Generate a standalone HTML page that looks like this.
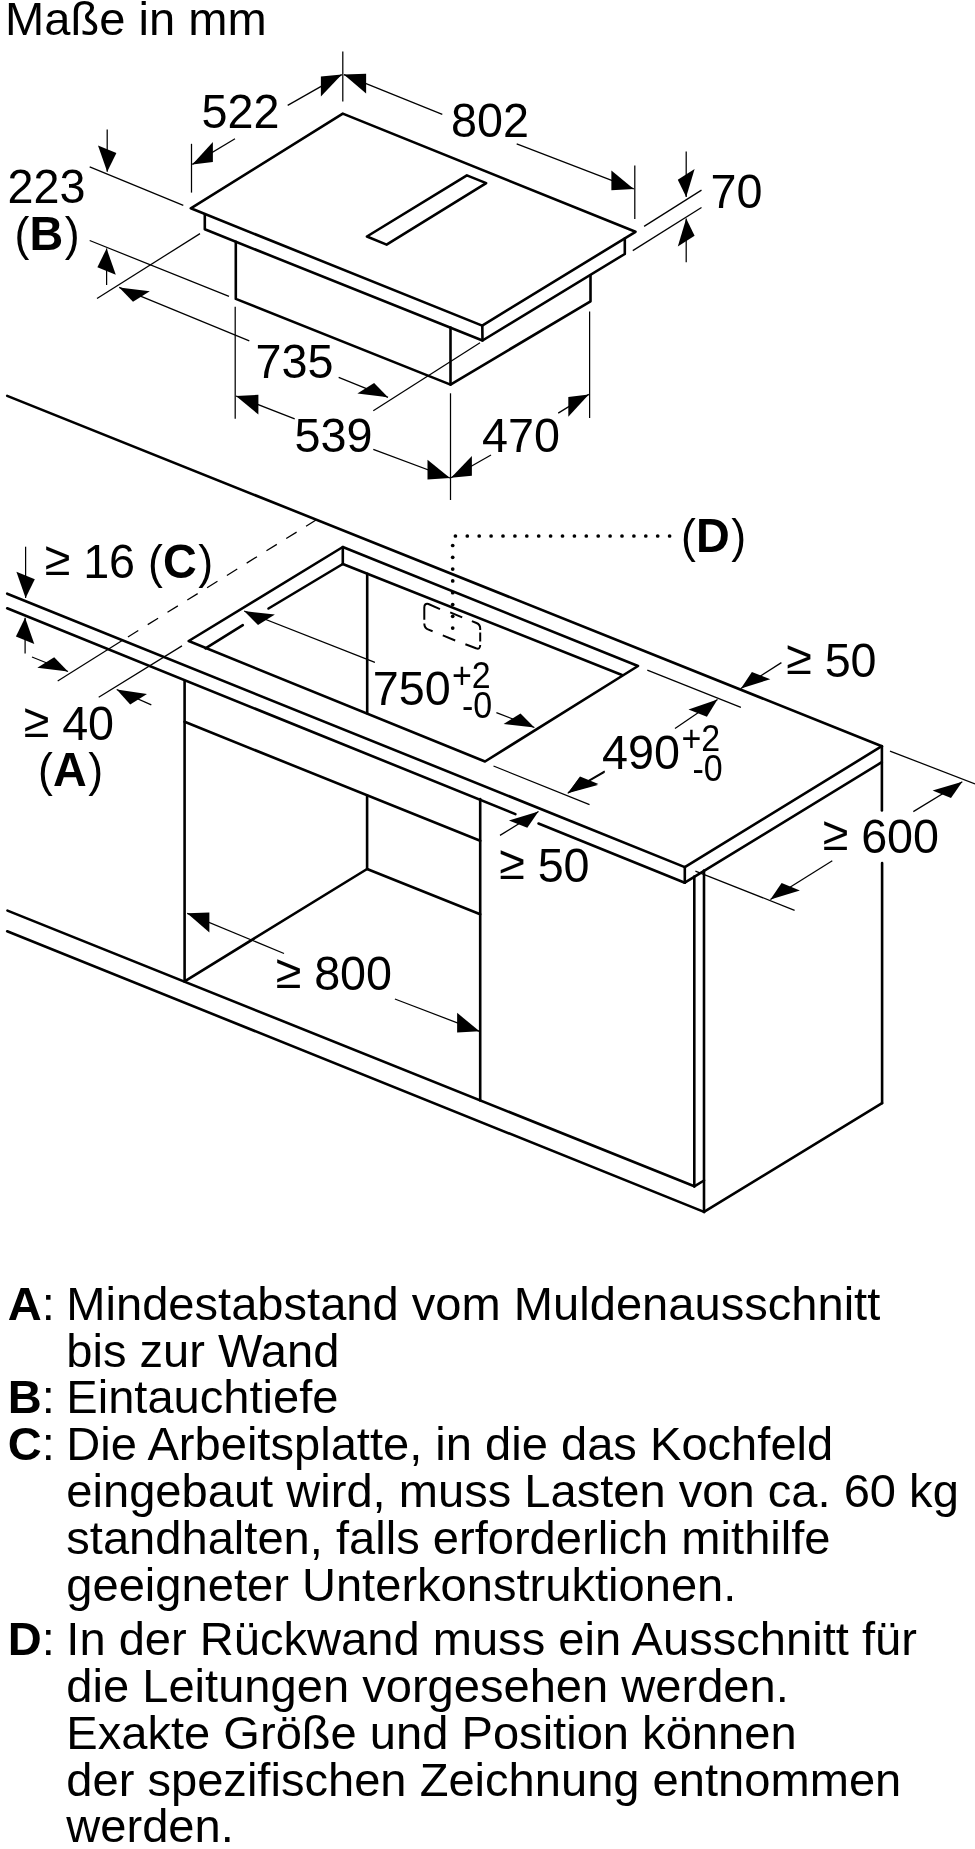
<!DOCTYPE html>
<html><head><meta charset="utf-8"><style>
html,body{margin:0;padding:0;background:#fff;}
svg{display:block;}
text{font-family:"Liberation Sans",sans-serif;fill:#000;}
.tg{will-change:transform;}
</style></head><body>
<svg width="975" height="1849" viewBox="0 0 975 1849">
<g stroke="#000" fill="none" stroke-linecap="butt">
<polygon points="190.8,208.3 342.8,113.6 635.5,231.8 482.2,325.6" stroke-width="2.6" fill="none" stroke-linejoin="round" stroke-linecap="round"/>
<polyline points="204.8,214.2 204.8,229.3 482.5,340.5 624.8,254 624.8,238.6" stroke-width="2.6" fill="none" stroke-linejoin="round" stroke-linecap="round"/>
<line x1="482.3" y1="325.6" x2="482.5" y2="340.5" stroke-width="2.6" stroke-linecap="round" />
<polyline points="235.8,241.7 235.8,298.9 450.5,384.6 590.5,301.3 590.5,275.3" stroke-width="2.6" fill="none" stroke-linejoin="round" stroke-linecap="round"/>
<line x1="450.5" y1="327.6" x2="450.5" y2="384.6" stroke-width="2.6" stroke-linecap="round" />
<polygon points="366.9,236.5 466.9,175.4 486.2,183.1 386.6,244.6" stroke-width="2.6" fill="none" stroke-linejoin="round" stroke-linecap="round"/>
<line x1="191.5" y1="143.8" x2="191.5" y2="192.6" stroke-width="1.25" />
<line x1="342.8" y1="51.5" x2="342.8" y2="101.5" stroke-width="1.25" />
<line x1="634.8" y1="165.5" x2="634.8" y2="219" stroke-width="1.25" />
<polygon points="192.3,164.4 212.9,161.9 212.9,142.1" fill="#000" stroke="none"/>
<line x1="192.3" y1="164.4" x2="235" y2="138.7" stroke-width="1.25" />
<polygon points="341.8,74.6 320.9,96.4 320.9,76.6" fill="#000" stroke="none"/>
<line x1="341.8" y1="74.6" x2="287.7" y2="105.4" stroke-width="1.25" />
<polygon points="343.8,74.6 366.1,93.5 366.1,73.7" fill="#000" stroke="none"/>
<line x1="343.8" y1="74.6" x2="442.3" y2="114.4" stroke-width="1.25" />
<polygon points="633.8,188.9 611.4,190.2 611.4,170.4" fill="#000" stroke="none"/>
<line x1="633.8" y1="188.9" x2="516.7" y2="143.8" stroke-width="1.25" />
<line x1="89.7" y1="166.9" x2="183.3" y2="205.4" stroke-width="1.25" />
<line x1="89.7" y1="240.5" x2="229" y2="296.4" stroke-width="1.25" />
<polygon points="107.2,171.8 116.4,153.1 98.0,145.5" fill="#000" stroke="none"/>
<line x1="107.2" y1="171.8" x2="107.2" y2="129.5" stroke-width="1.25" />
<polygon points="106.6,248.5 115.8,274.8 97.4,267.2" fill="#000" stroke="none"/>
<line x1="106.6" y1="248.5" x2="106.6" y2="285" stroke-width="1.25" />
<line x1="644.1" y1="226.4" x2="701.5" y2="190.1" stroke-width="1.25" />
<line x1="632.8" y1="250.6" x2="701.5" y2="207.5" stroke-width="1.25" />
<polygon points="686.2,196.9 694.6,169.1 677.8,179.7" fill="#000" stroke="none"/>
<line x1="686.2" y1="196.9" x2="686.2" y2="151.5" stroke-width="1.25" />
<polygon points="686.2,218.6 694.6,235.8 677.8,246.4" fill="#000" stroke="none"/>
<line x1="686.2" y1="218.6" x2="686.2" y2="262.3" stroke-width="1.25" />
<line x1="97" y1="298.5" x2="200" y2="233.6" stroke-width="1.25" />
<line x1="373.3" y1="410.7" x2="480" y2="342.7" stroke-width="1.25" />
<polygon points="119.2,287.4 149.8,291.2 133.0,301.8" fill="#000" stroke="none"/>
<line x1="119.2" y1="287.4" x2="249.3" y2="340.8" stroke-width="1.25" />
<polygon points="388.0,397.3 374.1,383.0 357.4,393.6" fill="#000" stroke="none"/>
<line x1="388" y1="397.3" x2="338.7" y2="377.3" stroke-width="1.25" />
<line x1="235.2" y1="306.7" x2="235.2" y2="418.7" stroke-width="1.25" />
<line x1="450.5" y1="393.3" x2="450.5" y2="500" stroke-width="1.25" />
<polygon points="236.0,396.0 258.4,414.6 258.4,394.8" fill="#000" stroke="none"/>
<line x1="236" y1="396" x2="294.7" y2="418.8" stroke-width="1.25" />
<polygon points="450.0,478.0 427.5,479.5 427.5,459.7" fill="#000" stroke="none"/>
<line x1="450" y1="478" x2="373.3" y2="449.3" stroke-width="1.25" />
<line x1="589.6" y1="311.5" x2="589.6" y2="418" stroke-width="1.25" />
<polygon points="451.0,477.8 471.9,475.8 471.9,456.0" fill="#000" stroke="none"/>
<line x1="451" y1="477.8" x2="491" y2="455" stroke-width="1.25" />
<polygon points="588.8,394.4 568.3,416.8 568.3,397.0" fill="#000" stroke="none"/>
<line x1="588.8" y1="394.4" x2="558.2" y2="413.1" stroke-width="1.25" />
<line x1="7.2" y1="395.9" x2="881.9" y2="746.2" stroke-width="2.6" stroke-linecap="round" />
<line x1="7.2" y1="593.7" x2="684.8" y2="867.1" stroke-width="2.6" stroke-linecap="round" />
<line x1="7.2" y1="608.3" x2="515.4" y2="814.1" stroke-width="2.6" stroke-linecap="round" />
<line x1="538.5" y1="823.5" x2="684.8" y2="882.7" stroke-width="2.6" stroke-linecap="round" />
<line x1="881.8" y1="746.2" x2="684.8" y2="867.1" stroke-width="2.6" stroke-linecap="round" />
<line x1="881.8" y1="762.2" x2="684.8" y2="882.7" stroke-width="2.6" stroke-linecap="round" />
<line x1="684.8" y1="867.1" x2="684.8" y2="882.7" stroke-width="2.6" stroke-linecap="round" />
<line x1="881.9" y1="746.2" x2="881.9" y2="810.5" stroke-width="2.6" stroke-linecap="round" />
<line x1="882.1" y1="863" x2="882.1" y2="1103.1" stroke-width="2.6" stroke-linecap="round" />
<polygon points="188.7,641 342.8,547 638,666 485,761.5" stroke-width="2.6" fill="none" stroke-linejoin="round" stroke-linecap="round"/>
<line x1="342.8" y1="547" x2="342.8" y2="564" stroke-width="2.6" stroke-linecap="round" />
<line x1="342.8" y1="564" x2="268.5" y2="608.5" stroke-width="2.6" stroke-linecap="round" />
<line x1="242.8" y1="625.1" x2="205.5" y2="648.3" stroke-width="2.6" stroke-linecap="round" />
<line x1="342.8" y1="564" x2="622" y2="675" stroke-width="2.6" stroke-linecap="round" />
<line x1="184.6" y1="681" x2="184.6" y2="981.5" stroke-width="2.6" stroke-linecap="round" />
<line x1="184.6" y1="721.8" x2="480.2" y2="840.8" stroke-width="2.6" stroke-linecap="round" />
<line x1="367.2" y1="573.8" x2="367.2" y2="713.3" stroke-width="2.6" stroke-linecap="round" />
<line x1="367.1" y1="795.3" x2="367.1" y2="869" stroke-width="2.6" stroke-linecap="round" />
<line x1="367.1" y1="869" x2="480.2" y2="914.2" stroke-width="2.6" stroke-linecap="round" />
<line x1="367.1" y1="869" x2="184.6" y2="981.3" stroke-width="2.6" stroke-linecap="round" />
<line x1="480.2" y1="799" x2="480.2" y2="1100.4" stroke-width="2.6" stroke-linecap="round" />
<line x1="7.5" y1="910.6" x2="694.3" y2="1186.3" stroke-width="2.6" stroke-linecap="round" />
<line x1="7.2" y1="931.3" x2="704" y2="1211.9" stroke-width="2.6" stroke-linecap="round" />
<line x1="694.3" y1="876.5" x2="694.3" y2="1186.3" stroke-width="2.6" stroke-linecap="round" />
<line x1="704" y1="870.5" x2="704" y2="1211.9" stroke-width="2.6" stroke-linecap="round" />
<line x1="694.3" y1="1186.3" x2="704" y2="1180.5" stroke-width="2.6" stroke-linecap="round" />
<line x1="882.1" y1="1103.1" x2="704" y2="1211.9" stroke-width="2.6" stroke-linecap="round" />
<polygon points="25.6,598.0 34.8,579.2 16.4,571.8" fill="#000" stroke="none"/>
<line x1="25.6" y1="598" x2="25.6" y2="546.7" stroke-width="1.25" />
<polygon points="25.1,617.7 34.3,643.9 15.9,636.5" fill="#000" stroke="none"/>
<line x1="25.1" y1="617.7" x2="25.1" y2="653.6" stroke-width="1.25" />
<line x1="57.7" y1="681" x2="123" y2="640" stroke-width="1.25" />
<line x1="316.4" y1="519.8" x2="123" y2="640" stroke-width="1.25" stroke-dasharray="12.2 11.1"/>
<line x1="98.7" y1="697.2" x2="182" y2="645.9" stroke-width="1.25" />
<polygon points="68.0,671.5 54.2,657.3 37.3,667.8" fill="#000" stroke="none"/>
<line x1="68" y1="671.5" x2="32" y2="657" stroke-width="1.25" />
<polygon points="116.7,689.5 147.0,694.0 130.2,704.5" fill="#000" stroke="none"/>
<line x1="116.7" y1="689.5" x2="151.3" y2="704.9" stroke-width="1.25" />
<polygon points="244.1,611.0 274.9,614.6 258.0,624.9" fill="#000" stroke="none"/>
<line x1="244.1" y1="611" x2="374.9" y2="662.3" stroke-width="1.25" />
<polygon points="534.4,727.5 520.5,713.5 503.6,724.0" fill="#000" stroke="none"/>
<line x1="534.4" y1="727.5" x2="496.4" y2="712.6" stroke-width="1.25" />
<line x1="647.3" y1="670.2" x2="740.9" y2="707.3" stroke-width="1.25" />
<line x1="493.5" y1="766" x2="589.5" y2="804.6" stroke-width="1.25" />
<polygon points="717.5,699.5 706.9,716.7 688.5,709.4" fill="#000" stroke="none"/>
<line x1="717.5" y1="699.5" x2="675" y2="728.6" stroke-width="1.25" />
<polygon points="568.5,792.4 598.4,783.9 580.0,776.6" fill="#000" stroke="none"/>
<line x1="568.5" y1="792.4" x2="604.7" y2="771.1" stroke-width="1.25" />
<polygon points="740.9,688.5 770.3,679.2 751.9,671.9" fill="#000" stroke="none"/>
<line x1="740.9" y1="688.5" x2="781.4" y2="662.6" stroke-width="1.25" />
<polygon points="567.7,793.2 597.8,785.0 579.4,777.7" fill="#000" stroke="none"/>
<line x1="567.7" y1="793.2" x2="604.6" y2="772.3" stroke-width="1.25" />
<polygon points="538.5,811.5 527.3,827.8 508.9,820.5" fill="#000" stroke="none"/>
<line x1="538.5" y1="811.5" x2="500" y2="835.4" stroke-width="1.25" />
<line x1="890" y1="751.1" x2="975" y2="783.9" stroke-width="1.25" />
<line x1="695.4" y1="871.2" x2="794.6" y2="910.3" stroke-width="1.25" />
<polygon points="962.3,781.8 951.0,797.9 932.6,790.6" fill="#000" stroke="none"/>
<line x1="962.3" y1="781.8" x2="913.3" y2="811.6" stroke-width="1.25" />
<polygon points="770.4,899.5 799.9,890.5 781.6,883.1" fill="#000" stroke="none"/>
<line x1="770.4" y1="899.5" x2="832.3" y2="860.8" stroke-width="1.25" />
<polygon points="187.2,913.3 209.4,932.4 209.4,912.6" fill="#000" stroke="none"/>
<line x1="187.2" y1="913.3" x2="284" y2="953.5" stroke-width="1.25" />
<polygon points="479.5,1031.3 457.1,1032.6 457.1,1012.8" fill="#000" stroke="none"/>
<line x1="479.5" y1="1031.3" x2="394.9" y2="999" stroke-width="1.25" />
<circle cx="455.4" cy="536.0" r="1.85" fill="#000" stroke="none"/>
<circle cx="467.3" cy="536.0" r="1.85" fill="#000" stroke="none"/>
<circle cx="479.2" cy="536.0" r="1.85" fill="#000" stroke="none"/>
<circle cx="491.1" cy="536.0" r="1.85" fill="#000" stroke="none"/>
<circle cx="503.0" cy="536.0" r="1.85" fill="#000" stroke="none"/>
<circle cx="514.9" cy="536.0" r="1.85" fill="#000" stroke="none"/>
<circle cx="526.8" cy="536.0" r="1.85" fill="#000" stroke="none"/>
<circle cx="538.7" cy="536.0" r="1.85" fill="#000" stroke="none"/>
<circle cx="550.6" cy="536.0" r="1.85" fill="#000" stroke="none"/>
<circle cx="562.5" cy="536.0" r="1.85" fill="#000" stroke="none"/>
<circle cx="574.4" cy="536.0" r="1.85" fill="#000" stroke="none"/>
<circle cx="586.3" cy="536.0" r="1.85" fill="#000" stroke="none"/>
<circle cx="598.2" cy="536.0" r="1.85" fill="#000" stroke="none"/>
<circle cx="610.1" cy="536.0" r="1.85" fill="#000" stroke="none"/>
<circle cx="622.0" cy="536.0" r="1.85" fill="#000" stroke="none"/>
<circle cx="633.9" cy="536.0" r="1.85" fill="#000" stroke="none"/>
<circle cx="645.8" cy="536.0" r="1.85" fill="#000" stroke="none"/>
<circle cx="657.7" cy="536.0" r="1.85" fill="#000" stroke="none"/>
<circle cx="669.6" cy="536.0" r="1.85" fill="#000" stroke="none"/>
<circle cx="452.7" cy="545.5" r="1.85" fill="#000" stroke="none"/>
<circle cx="452.7" cy="557.3" r="1.85" fill="#000" stroke="none"/>
<circle cx="452.7" cy="569.1" r="1.85" fill="#000" stroke="none"/>
<circle cx="452.7" cy="580.9" r="1.85" fill="#000" stroke="none"/>
<circle cx="452.7" cy="592.7" r="1.85" fill="#000" stroke="none"/>
<circle cx="452.7" cy="604.5" r="1.85" fill="#000" stroke="none"/>
<circle cx="452.7" cy="616.3" r="1.85" fill="#000" stroke="none"/>
<circle cx="452.7" cy="628.1" r="1.85" fill="#000" stroke="none"/>
<path d="M424.3,619.7 L424.3,607.5 Q424.3,603 428.5,604 L440,609.1 M450.2,612.3 L462.2,617.4 M471.9,621.1 L476.5,623 Q480.2,624.6 480.2,628.5 L480.2,629.9 M480.2,632.6 L480.2,641.4 M480.2,645.1 Q480.2,649.8 476,648.3 L465.4,644.2 M455.2,640.5 L442.8,635.4 M432.6,631.2 L428.5,629.6 Q424.3,628 424.3,623.4" fill="none" stroke-width="2.0" stroke-linecap="butt"/>
</g>
<g class="tg">
<text transform="translate(5,34.6) scale(1.035,1.0)" font-size="45.5" text-anchor="start">Maße in mm</text>
<text transform="translate(201.5,128.5) scale(1.027,1.05)" font-size="45.5" text-anchor="start">522</text>
<text transform="translate(451.1,137.4) scale(1.027,1.05)" font-size="45.5" text-anchor="start">802</text>
<text transform="translate(7.5,202.8) scale(1.027,1.05)" font-size="45.5" text-anchor="start">223</text>
<text transform="translate(14.5,250.3) scale(1.027,1.05)" font-size="45.5" text-anchor="start"><tspan font-size="43.5">(</tspan><tspan font-weight="bold">B</tspan><tspan font-size="43.5" dx="1.5">)</tspan></text>
<text transform="translate(710.5,207.9) scale(1.027,1.05)" font-size="45.5" text-anchor="start">70</text>
<text transform="translate(255.5,377.5) scale(1.027,1.05)" font-size="45.5" text-anchor="start">735</text>
<text transform="translate(294.5,452.2) scale(1.027,1.05)" font-size="45.5" text-anchor="start">539</text>
<text transform="translate(482.0,452.3) scale(1.027,1.05)" font-size="45.5" text-anchor="start">470</text>
<text transform="translate(44.5,577.7) scale(1.027,1.05)" font-size="45.5" text-anchor="start"><tspan dy="-2.3">≥</tspan><tspan dy="2.3"> 16 <tspan font-size="43.5">(</tspan><tspan font-weight="bold">C</tspan><tspan font-size="43.5" dx="1.5">)</tspan></tspan></text>
<text transform="translate(681.0,552) scale(1.027,1.05)" font-size="45.5" text-anchor="start"><tspan font-size="43.5">(</tspan><tspan font-weight="bold">D</tspan><tspan font-size="43.5" dx="1.5">)</tspan></text>
<text transform="translate(786.0,676.7) scale(1.027,1.05)" font-size="45.5" text-anchor="start"><tspan dy="-2.3">≥</tspan><tspan dy="2.3"> 50</tspan></text>
<text transform="translate(23.5,739.5) scale(1.027,1.05)" font-size="45.5" text-anchor="start"><tspan dy="-2.3">≥</tspan><tspan dy="2.3"> 40</tspan></text>
<text transform="translate(38.0,786) scale(1.027,1.05)" font-size="45.5" text-anchor="start"><tspan font-size="43.5">(</tspan><tspan font-weight="bold">A</tspan><tspan font-size="43.5" dx="1.5">)</tspan></text>
<text transform="translate(372.8,704.9) scale(1.027,1.05)" font-size="45.5" text-anchor="start">750</text>
<text transform="translate(452,688) scale(1.0,1.09)" font-size="34" text-anchor="start">+2</text>
<text transform="translate(462,717.5) scale(1.0,1.09)" font-size="34" text-anchor="start">-0</text>
<text transform="translate(602.1,769) scale(1.027,1.05)" font-size="45.5" text-anchor="start">490</text>
<text transform="translate(681.5,750.6) scale(1.0,1.09)" font-size="34" text-anchor="start">+2</text>
<text transform="translate(692.5,781.3) scale(1.0,1.09)" font-size="34" text-anchor="start">-0</text>
<text transform="translate(822.5,852.7) scale(1.027,1.05)" font-size="45.5" text-anchor="start"><tspan dy="-2.3">≥</tspan><tspan dy="2.3"> 600</tspan></text>
<text transform="translate(499.0,881.7) scale(1.027,1.05)" font-size="45.5" text-anchor="start"><tspan dy="-2.3">≥</tspan><tspan dy="2.3"> 50</tspan></text>
<text transform="translate(275.5,990.3) scale(1.027,1.05)" font-size="45.5" text-anchor="start"><tspan dy="-2.3">≥</tspan><tspan dy="2.3"> 800</tspan></text>
<text transform="translate(7.8,1320) scale(1.035,1.0)" font-size="45.5" text-anchor="start"><tspan font-weight="bold">A</tspan>:</text>
<text transform="translate(66.3,1320) scale(1.035,1.0)" font-size="45.5" text-anchor="start">Mindestabstand vom Muldenausschnitt</text>
<text transform="translate(66.3,1366.5) scale(1.035,1.0)" font-size="45.5" text-anchor="start">bis zur Wand</text>
<text transform="translate(7.8,1413) scale(1.035,1.0)" font-size="45.5" text-anchor="start"><tspan font-weight="bold">B</tspan>:</text>
<text transform="translate(66.3,1413) scale(1.035,1.0)" font-size="45.5" text-anchor="start">Eintauchtiefe</text>
<text transform="translate(7.8,1460) scale(1.035,1.0)" font-size="45.5" text-anchor="start"><tspan font-weight="bold">C</tspan>:</text>
<text transform="translate(66.3,1460) scale(1.035,1.0)" font-size="45.5" text-anchor="start">Die Arbeitsplatte, in die das Kochfeld</text>
<text transform="translate(66.3,1507) scale(1.035,1.0)" font-size="45.5" text-anchor="start">eingebaut wird, muss Lasten von ca. 60 kg</text>
<text transform="translate(66.3,1553.7) scale(1.035,1.0)" font-size="45.5" text-anchor="start">standhalten, falls erforderlich mithilfe</text>
<text transform="translate(66.3,1600.5) scale(1.035,1.0)" font-size="45.5" text-anchor="start">geeigneter Unterkonstruktionen.</text>
<text transform="translate(7.8,1655) scale(1.035,1.0)" font-size="45.5" text-anchor="start"><tspan font-weight="bold">D</tspan>:</text>
<text transform="translate(66.3,1655) scale(1.035,1.0)" font-size="45.5" text-anchor="start">In der Rückwand muss ein Ausschnitt für</text>
<text transform="translate(66.3,1701.7) scale(1.035,1.0)" font-size="45.5" text-anchor="start">die Leitungen vorgesehen werden.</text>
<text transform="translate(66.3,1748.7) scale(1.035,1.0)" font-size="45.5" text-anchor="start">Exakte Größe und Position können</text>
<text transform="translate(66.3,1795.9) scale(1.035,1.0)" font-size="45.5" text-anchor="start">der spezifischen Zeichnung entnommen</text>
<text transform="translate(66.3,1842.3) scale(1.035,1.0)" font-size="45.5" text-anchor="start">werden.</text>
</g>
</svg>
</body></html>
